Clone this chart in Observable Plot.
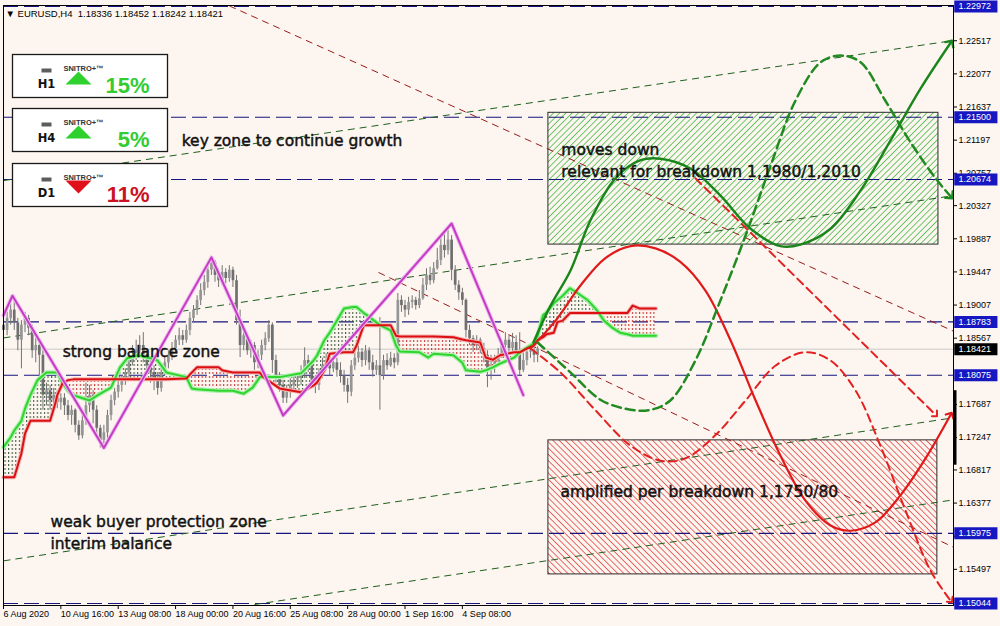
<!DOCTYPE html>
<html>
<head>
<meta charset="utf-8">
<script src="https://cdn.jsdelivr.net/npm/d3@7"></script>
<script src="https://cdn.jsdelivr.net/npm/@observablehq/plot@0.6"></script>
<style>
  html, body { margin: 0; padding: 0; background: #fdf6f0; }
  #chart { width: 1000px; height: 626px; overflow: hidden; }
  #chart svg { display: block; }
</style>
</head>
<body>
<div id="chart"></div>
<script>
// ---------------- DATA ----------------
const candleOpen = [1.1874,1.1867,1.1883,1.1894,1.1877,1.1854,1.1874,1.1883,1.1870,1.1840,
1.1847,1.1834,1.1781,1.1787,1.1774,1.1781,1.1771,1.1777,1.1767,1.1754,
1.1761,1.1741,1.1727,1.1747,1.1767,1.1781,1.1761,1.1737,1.1721,1.1731,
1.1754,1.1774,1.1785,1.1794,1.1801,1.1811,1.1824,1.1834,1.1840,1.1847,
1.1834,1.1820,1.1811,1.1803,1.1790,1.1811,1.1824,1.1834,1.1843,1.1854,
1.1860,1.1854,1.1867,1.1883,1.1894,1.1907,1.1920,1.1931,1.1947,1.1957,
1.1940,1.1933,1.1944,1.1936,1.1947,1.1933,1.1880,1.1847,1.1860,1.1840,
1.1847,1.1824,1.1834,1.1847,1.1856,1.1874,1.1827,1.1803,1.1794,1.1777,
1.1785,1.1794,1.1801,1.1803,1.1811,1.1827,1.1820,1.1801,1.1794,1.1811,
1.1820,1.1827,1.1816,1.1824,1.1814,1.1807,1.1794,1.1785,1.1820,1.1830,
1.1838,1.1827,1.1840,1.1824,1.1814,1.1820,1.1807,1.1827,1.1820,1.1830,
1.1824,1.1907,1.1900,1.1894,1.1904,1.1907,1.1900,1.1909,1.1927,1.1940,
1.1933,1.1949,1.1960,1.1980,1.1973,1.1987,1.1947,1.1927,1.1917,1.1907,
1.1867,1.1856,1.1847,1.1854,1.1843,1.1834,1.1814,1.1820,1.1827,1.1834,
1.1847,1.1854,1.1843,1.1851,1.1840,1.1814,1.1827,1.1838,1.1840,1.18336];
const candleHigh = [1.1883,1.1891,1.1907,1.1912,1.1883,1.1880,1.1891,1.1887,1.1874,1.1856,
1.1854,1.1840,1.1797,1.1794,1.1790,1.1787,1.1783,1.1783,1.1774,1.1767,
1.1763,1.1747,1.1754,1.1797,1.1794,1.1787,1.1767,1.1741,1.1741,1.1761,
1.1781,1.1790,1.1805,1.1807,1.1816,1.1834,1.1847,1.1854,1.1860,1.1864,
1.1840,1.1830,1.1820,1.1811,1.1816,1.1831,1.1840,1.1851,1.1860,1.1870,
1.1867,1.1874,1.1891,1.1900,1.1913,1.1929,1.1940,1.1957,1.1964,1.1960,
1.1949,1.1953,1.1949,1.1953,1.1951,1.1940,1.1894,1.1867,1.1863,1.1854,
1.1851,1.1840,1.1854,1.1864,1.1880,1.1877,1.1834,1.1811,1.1801,1.1794,
1.1803,1.1810,1.1811,1.1820,1.1844,1.1834,1.1827,1.1807,1.1816,1.1830,
1.1836,1.1834,1.1832,1.1830,1.1824,1.1814,1.1803,1.1827,1.1840,1.1850,
1.1843,1.1847,1.1844,1.1834,1.1827,1.1884,1.1834,1.1836,1.1838,1.1836,
1.1916,1.1913,1.1907,1.1911,1.1913,1.1911,1.1920,1.1936,1.1949,1.1951,
1.1957,1.1976,1.1990,1.1996,1.2000,1.1993,1.1953,1.1933,1.1923,1.1909,
1.1874,1.1860,1.1860,1.1857,1.1850,1.1840,1.1834,1.1834,1.1843,1.1854,
1.1864,1.1860,1.1863,1.1860,1.1864,1.1838,1.1844,1.1847,1.1847,1.18452];
const candleLow = [1.1856,1.1860,1.1874,1.1867,1.1840,1.1816,1.1864,1.1860,1.1830,1.1824,
1.1801,1.1761,1.1767,1.1761,1.1767,1.1763,1.1761,1.1754,1.1747,1.1741,
1.1731,1.1721,1.1723,1.1741,1.1758,1.1743,1.1727,1.1711,1.1711,1.1723,
1.1747,1.1767,1.1777,1.1785,1.1794,1.1803,1.1820,1.1827,1.1831,1.1824,
1.1807,1.1797,1.1787,1.1781,1.1785,1.1807,1.1816,1.1827,1.1838,1.1847,
1.1847,1.1850,1.1860,1.1877,1.1887,1.1900,1.1913,1.1923,1.1940,1.1931,
1.1924,1.1927,1.1929,1.1931,1.1924,1.1874,1.1831,1.1840,1.1834,1.1830,
1.1814,1.1816,1.1827,1.1840,1.1851,1.1810,1.1797,1.1785,1.1770,1.1770,
1.1777,1.1787,1.1790,1.1794,1.1803,1.1811,1.1790,1.1783,1.1787,1.1803,
1.1814,1.1807,1.1811,1.1805,1.1797,1.1785,1.1770,1.1779,1.1814,1.1824,
1.1818,1.1820,1.1814,1.1805,1.1807,1.1761,1.1801,1.1814,1.1818,1.1816,
1.1820,1.1891,1.1884,1.1887,1.1896,1.1894,1.1896,1.1907,1.1920,1.1927,
1.1929,1.1947,1.1953,1.1963,1.1967,1.1933,1.1920,1.1907,1.1900,1.1857,
1.1847,1.1838,1.1840,1.1836,1.1824,1.1791,1.1801,1.1810,1.1820,1.1830,
1.1838,1.1834,1.1838,1.1834,1.1807,1.1811,1.1820,1.1830,1.1824,1.18242];
const candleClose = [1.1867,1.1883,1.1894,1.1877,1.1854,1.1874,1.1883,1.1870,1.1840,1.1847,
1.1834,1.1781,1.1787,1.1774,1.1781,1.1771,1.1777,1.1767,1.1754,1.1761,
1.1741,1.1727,1.1747,1.1767,1.1781,1.1761,1.1737,1.1721,1.1731,1.1754,
1.1774,1.1785,1.1794,1.1801,1.1811,1.1824,1.1834,1.1840,1.1847,1.1834,
1.1820,1.1811,1.1803,1.1790,1.1811,1.1824,1.1834,1.1843,1.1854,1.1860,
1.1854,1.1867,1.1883,1.1894,1.1907,1.1920,1.1931,1.1947,1.1957,1.1940,
1.1933,1.1944,1.1936,1.1947,1.1933,1.1880,1.1847,1.1860,1.1840,1.1847,
1.1824,1.1834,1.1847,1.1856,1.1874,1.1827,1.1803,1.1794,1.1777,1.1785,
1.1794,1.1801,1.1803,1.1811,1.1827,1.1820,1.1801,1.1794,1.1811,1.1820,
1.1827,1.1816,1.1824,1.1814,1.1807,1.1794,1.1785,1.1820,1.1830,1.1838,
1.1827,1.1840,1.1824,1.1814,1.1820,1.1807,1.1827,1.1820,1.1830,1.1824,
1.1907,1.1900,1.1894,1.1904,1.1907,1.1900,1.1909,1.1927,1.1940,1.1933,
1.1949,1.1960,1.1980,1.1973,1.1987,1.1947,1.1927,1.1917,1.1907,1.1867,
1.1856,1.1847,1.1854,1.1843,1.1834,1.1814,1.1820,1.1827,1.1834,1.1847,
1.1854,1.1843,1.1851,1.1840,1.1814,1.1827,1.1838,1.1840,1.1834,1.18421];

const xTickBars = [0, 16, 32, 48, 64, 80, 96, 112, 128];
const xTickLabels = ["6 Aug 2020","10 Aug 16:00","13 Aug 08:00","18 Aug 00:00","20 Aug 16:00","25 Aug 08:00","28 Aug 00:00","1 Sep 16:00","4 Sep 08:00"];
const yTicks = [1.22517,1.22077,1.21637,1.21197,1.20757,1.20327,1.19887,1.19447,1.19007,1.18567,1.17687,1.17247,1.16817,1.16377,1.15937,1.15497];
const levelPrices = [1.22972,1.21500,1.20674,1.18783,1.18075,1.15975,1.15044];
const bidPrice = [1.18421];
const rangeBar = [1.1787, 1.1688];

// Ichimoku cloud (senkou span A green, span B red)
const cloudBars = [0,2,3,5,6,7.5,9.5,12,13,14.5,15,16.5,18,19.5,24,27,30,32.5,34.5,37.5,
41,43,45.5,51,52.5,54,60,61,64,67,69.5,71.5,72.5,77,83,86.5,87.5,89.5,91,95,
97.5,98.5,100.5,101.5,105,108,109.5,110.5,116,118.5,120,125.5,128,129,133,134.5,136.5,138.5,140.5,142.5,
144,146,148,149,150.5,151.5,153.5,154.5,156,158,160,163,165.5,167.5,170,172,174,175.5,177.5,182];
const spanA = [1.1712,1.1725,1.1734,1.1747,1.1763,1.1781,1.1801,1.1811,1.1811,1.1811,
1.1811,1.1797,1.1787,1.1781,1.1774,1.1783,1.1791,1.1818,1.1830,1.1834,
1.1830,1.1827,1.1811,1.1805,1.1790,1.1789,1.1787,1.1787,1.1787,1.1783,
1.1791,1.1805,1.1805,1.1805,1.1810,1.1827,1.1834,1.1854,1.1864,1.1896,
1.1898,1.1898,1.1890,1.1887,1.1874,1.1867,1.1847,1.1839,1.1838,1.1831,
1.1836,1.1834,1.1824,1.1814,1.1812,1.1814,1.1818,1.1823,1.1827,1.1831,
1.1838,1.1844,1.1850,1.1860,1.1887,1.1891,1.1903,1.1907,1.1913,1.1923,
1.1917,1.1907,1.1894,1.1880,1.1870,1.1864,1.1862,1.1860,1.1860,1.1860];
const spanB = [1.1672,1.1672,1.1672,1.1704,1.1730,1.1747,1.1747,1.1747,1.1747,1.1771,
1.1781,1.1797,1.1801,1.1802,1.1802,1.1802,1.1802,1.1802,1.1802,1.1802,
1.1802,1.1802,1.1802,1.1803,1.1811,1.1818,1.1818,1.1814,1.1811,1.1811,
1.1811,1.1811,1.1805,1.1790,1.1785,1.1794,1.1798,1.1814,1.1836,1.1838,
1.1838,1.1847,1.1874,1.1874,1.1874,1.1874,1.1860,1.1859,1.1859,1.1859,
1.1859,1.1858,1.1855,1.1854,1.1851,1.1831,1.1828,1.1834,1.1836,1.1838,
1.1838,1.1843,1.1847,1.1854,1.1858,1.1862,1.1864,1.1878,1.1880,1.1890,
1.1890,1.1890,1.1890,1.1890,1.1890,1.1890,1.1890,1.1900,1.1896,1.1896];

// ZigZag
const zigBars = [0, 2.5, 28, 58, 78, 125, 145];
const zigPrices = [1.1887, 1.1913, 1.1711, 1.1964, 1.1754, 1.2009, 1.1781];

// Trend lines (start bar, start price, end bar, end price)
const greenTrendBar1 = [0, 0, 0, 70];
const greenTrendP1 = [1.2066, 1.1857, 1.1561, 1.1503];
const greenTrendBar2 = [265, 265, 265, 265];
const greenTrendP2 = [1.2252, 1.2046, 1.1751, 1.1642];
const redTrendBar1 = [63, 104.6];
const redTrendP1 = [1.2298, 1.1944];
const redTrendBar2 = [265, 265];
const redTrendP2 = [1.1866, 1.1579];

// Zones
const greenZoneBars = [152, 260.8];
const greenZonePrices = [1.1981, 1.2156];
const redZoneBars = [152, 260.5];
const redZonePrices = [1.1543, 1.1721];

// Forecast paths
const greenSolidBar = [147.8,152.6,158.2,163.7,170.7,177.7,183.3,191.6,200,208.4,216.7,222.3,230.7,239.1,247.4,255.8,264.2];
const greenSolidPrice = [1.1851,1.1900,1.1947,1.2013,1.2069,1.2093,1.2095,1.2082,1.2046,1.2002,1.1979,1.1981,1.2002,1.2053,1.2119,1.2188,1.2249];
const greenDashBar = [149,158.2,166.5,173.5,179.9,186,193,200,207,214,220.9,227.9,233.5,239.1,246,253,260,264.2];
const greenDashPrice = [1.1851,1.1811,1.1775,1.1763,1.1761,1.1774,1.1827,1.1907,1.1993,1.2086,1.2172,1.2223,1.2232,1.2223,1.2172,1.2117,1.2069,1.2045];
const redSolidBar = [147,154,161,167.9,174.9,181.9,188.8,195.8,202.8,209.8,216.7,223.7,230.7,236.3,243.2,250.2,257.2,264.2];
const redSolidPrice = [1.1843,1.1880,1.1927,1.1963,1.1979,1.1976,1.1958,1.1920,1.1854,1.1774,1.1701,1.1641,1.1608,1.1601,1.1612,1.1648,1.1697,1.1755];
const redDashBar = [147,155.4,165.1,174.9,183.3,190.2,198.6,207,215.3,223.7,230.7,237.7,244.6,251.6,258.6,264.2];
const redDashPrice = [1.1843,1.1811,1.1761,1.1714,1.1694,1.1697,1.1728,1.1774,1.1820,1.1838,1.1827,1.1787,1.1714,1.1628,1.1548,1.1508];
const redArrowBar = [193, 260];
const redArrowPrice = [1.2069, 1.1755];

// Annotations
const noteText = ["key zone to continue growth","strong balance zone","weak buyer protection zone","interim balance","moves down","relevant for breakdown 1,1980/1,2010","amplified per breakdown 1,1750/80"];
const noteBar = [49.7, 16.5, 13.1, 13.1, 155.6, 155.6, 155.4];
const notePrice = [1.2118, 1.1838, 1.1613, 1.1583, 1.2106, 1.2077, 1.1652];

// Header & panel
const headerText = ["\u25BC EURUSD,H4  1.18336 1.18452 1.18242 1.18421"];
const panelTf = ["H1", "H4", "D1"];
const panelPct = ["15%", "5%", "11%"];
const panelUp = [true, true, false];

// ---------------- LAYOUT ----------------
const W = 1000, H = 626, ML = 3, MR = 47, MT = 5, MB = 21;
const xEnd = 265;
const yDomain = [1.15017, 1.22985];
const BG = "#fdf6f0";
const NAVY = "#16167e";
const fmt5 = d3.format(".5f");
const bars = d3.range(candleClose.length);
const cloudIdx = d3.range(cloudBars.length);
const xLabelOf = new Map(xTickBars.map((b, i) => [b, xTickLabels[i]]));

const pts = (xs, ys) => xs.map((x, i) => ({x, y: ys[i]}));
const segs = (xa, ya, xb, yb) => xa.map((x, i) => ({x1: x, y1: ya[i], x2: xb[i], y2: yb[i]}));

const triUp = {draw(c) { c.moveTo(-13, 6.5); c.lineTo(13, 6.5); c.lineTo(0, -6.5); c.closePath(); }};
const triDown = {draw(c) { c.moveTo(-13, -6.5); c.lineTo(13, -6.5); c.lineTo(0, 6.5); c.closePath(); }};
const chip = {draw(c) { c.rect(-5, -2, 10, 4); }};

const annoFont = "DejaVu Sans, Verdana, sans-serif";
const axisFont = "Liberation Sans, Arial, sans-serif";

const panelMarks = [];
const panelTops = [54, 108, 163];
panelTops.forEach((T, k) => {
  const fa = {frameAnchor: "top-left"};
  panelMarks.push(Plot.frame({fill: "#ffffff", stroke: "#1a1a1a", strokeWidth: 1.3,
    insetLeft: 12 - ML, insetRight: (W - MR) - 167, insetTop: T - MT, insetBottom: (H - MB) - (T + 43)}));
  panelMarks.push(Plot.dot([panelTf[k]], {...fa, dx: 46 - ML, dy: T + 16 - MT, symbol: chip, r: 4, fill: "#5c5c5c"}));
  panelMarks.push(Plot.text([panelTf[k]], {...fa, dx: 46 - ML, dy: T + 25.5 - MT, text: d => d, textAnchor: "middle",
    fontSize: 11.5, fontWeight: "bold", fill: "#111", fontFamily: "DejaVu Sans, sans-serif"}));
  panelMarks.push(Plot.text(["SNITRO+\u2122"], {...fa, dx: 83 - ML, dy: T + 11.5 - MT, text: d => d, textAnchor: "middle",
    fontSize: 7.5, fontWeight: "bold", fill: "#333", fontFamily: axisFont}));
  panelMarks.push(Plot.dot([panelPct[k]], {...fa, dx: 78 - ML, dy: T + 23.5 - MT, r: 5,
    symbol: panelUp[k] ? triUp : triDown, fill: panelUp[k] ? "#2fd12f" : "#e0101a"}));
  panelMarks.push(Plot.text([panelPct[k]], {...fa, dx: 149 - ML, dy: T + 23 - MT, text: d => d, textAnchor: "end",
    fontSize: 22, fontWeight: "bold", fill: panelUp[k] ? "#33cc33" : "#cc1122", fontFamily: axisFont}));
});

const chart = Plot.plot({
  width: W, height: H,
  marginLeft: ML, marginRight: MR, marginTop: MT, marginBottom: MB,
  style: {background: BG, fontFamily: axisFont, fontSize: "9px", color: "#000", overflow: "visible"},
  x: {domain: [0, xEnd]},
  y: {domain: yDomain},
  marks: [
    // hatched zones
    Plot.rect([0], {x1: () => greenZoneBars[0], x2: () => greenZoneBars[1], y1: () => greenZonePrices[0], y2: () => greenZonePrices[1],
      fill: "url(#hatchG)", stroke: "#2a2a2a", strokeWidth: 1}),
    Plot.rect([0], {x1: () => redZoneBars[0], x2: () => redZoneBars[1], y1: () => redZonePrices[0], y2: () => redZonePrices[1],
      fill: "url(#hatchR)", stroke: "#2a2a2a", strokeWidth: 1}),
    // horizontal levels
    Plot.ruleY(levelPrices, {stroke: NAVY, strokeWidth: 1.1, strokeDasharray: "15,6"}),
    Plot.ruleY(bidPrice, {stroke: "#c9c9c9", strokeWidth: 1}),
    // channel trend lines
    Plot.link(segs(greenTrendBar1, greenTrendP1, greenTrendBar2, greenTrendP2),
      {x1: "x1", y1: "y1", x2: "x2", y2: "y2", stroke: "#1d5f1d", strokeWidth: 1, strokeDasharray: "7,5"}),
    Plot.link(segs(redTrendBar1, redTrendP1, redTrendBar2, redTrendP2),
      {x1: "x1", y1: "y1", x2: "x2", y2: "y2", stroke: "#9a1a1a", strokeWidth: 1, strokeDasharray: "7,5"}),
    // candles
    Plot.ruleX(bars, {x: i => i, y1: i => candleLow[i], y2: i => candleHigh[i], stroke: "#737373", strokeWidth: 1}),
    Plot.ruleX(bars, {x: i => i, y1: i => candleOpen[i], y2: i => candleClose[i], strokeWidth: 2.7,
      stroke: i => candleClose[i] >= candleOpen[i] ? "#959595" : "#6f6f6f"}),
    // ichimoku cloud fill
    Plot.areaY(cloudIdx, {x: i => cloudBars[i], y1: i => spanB[i], y2: i => Math.max(spanA[i], spanB[i]), fill: "url(#dotG)"}),
    Plot.areaY(cloudIdx, {x: i => cloudBars[i], y1: i => spanA[i], y2: i => Math.max(spanA[i], spanB[i]), fill: "url(#dotR)"}),
    // ichimoku lines (with halo)
    Plot.line(cloudIdx, {x: i => cloudBars[i], y: i => spanA[i], stroke: "#aef0ae", strokeWidth: 4.5}),
    Plot.line(cloudIdx, {x: i => cloudBars[i], y: i => spanB[i], stroke: "#f3b4b4", strokeWidth: 4}),
    Plot.line(cloudIdx, {x: i => cloudBars[i], y: i => spanA[i], stroke: "#2fd42f", strokeWidth: 2}),
    Plot.line(cloudIdx, {x: i => cloudBars[i], y: i => spanB[i], stroke: "#dc1010", strokeWidth: 2}),
    // zigzag
    Plot.line(pts(zigBars, zigPrices), {x: "x", y: "y", stroke: "#efbdef", strokeWidth: 4}),
    Plot.line(pts(zigBars, zigPrices), {x: "x", y: "y", stroke: "#c43cc4", strokeWidth: 2}),
    // forecast paths
    Plot.line(pts(redDashBar, redDashPrice), {x: "x", y: "y", curve: "catmull-rom", stroke: "#e22222", strokeWidth: 2, strokeDasharray: "8,5", markerEnd: "arrow"}),
    Plot.line(pts(redArrowBar, redArrowPrice), {x: "x", y: "y", stroke: "#e22222", strokeWidth: 2, strokeDasharray: "8,5", markerEnd: "arrow"}),
    Plot.line(pts(redSolidBar, redSolidPrice), {x: "x", y: "y", curve: "catmull-rom", stroke: "#e01a1a", strokeWidth: 2.2, markerEnd: "arrow"}),
    Plot.line(pts(greenDashBar, greenDashPrice), {x: "x", y: "y", curve: "catmull-rom", stroke: "#218a21", strokeWidth: 2.5, strokeDasharray: "9,5", markerEnd: "arrow"}),
    Plot.line(pts(greenSolidBar, greenSolidPrice), {x: "x", y: "y", curve: "catmull-rom", stroke: "#1b851b", strokeWidth: 2.4, markerEnd: "arrow"}),
    // annotations
    Plot.text(d3.range(noteText.length), {x: i => noteBar[i], y: i => notePrice[i], text: i => noteText[i],
      textAnchor: "start", fontSize: 15.5, fontFamily: annoFont, fill: "#111", stroke: "#111", strokeWidth: 0.45}),
    // axes
    Plot.axisX(xTickBars, {anchor: "bottom", tickSize: 4, tickPadding: 1, textAnchor: "start", dx: 0,
      tickFormat: d => xLabelOf.get(d), fontSize: 9, label: null}),
    Plot.axisY(yTicks, {anchor: "right", tickSize: 3, tickPadding: 2, tickFormat: fmt5, fontSize: 9, label: null}),
    Plot.frame({stroke: "#000", strokeWidth: 1}),
    // highlighted price labels
    Plot.ruleY(levelPrices, {x1: () => xEnd + 0.35, x2: () => xEnd + 12.4, stroke: "#1717c2", strokeWidth: 12}),
    Plot.text(levelPrices, {y: d => d, frameAnchor: "right", dx: 5, text: fmt5, textAnchor: "start", fill: "#ffffff", fontSize: 9}),
    Plot.ruleY(bidPrice, {x1: () => xEnd + 0.35, x2: () => xEnd + 12.4, stroke: "#000000", strokeWidth: 12}),
    Plot.text(bidPrice, {y: d => d, frameAnchor: "right", dx: 5, text: fmt5, textAnchor: "start", fill: "#ffffff", fontSize: 9}),
    Plot.ruleX([xEnd], {y1: () => rangeBar[0], y2: () => rangeBar[1], stroke: "#000", strokeWidth: 3, dx: 1.5}),
    // header
    Plot.text(headerText, {frameAnchor: "top-left", dx: 2, dy: 5, text: d => d, textAnchor: "start",
      fontSize: 9.5, fill: "#000", stroke: BG, strokeWidth: 6, paintOrder: "stroke", fontFamily: axisFont}),
    ...panelMarks
  ]
});

d3.select(chart).insert("defs", ":first-child").html(`
  <pattern id="hatchG" patternUnits="userSpaceOnUse" width="4.4" height="4.4" patternTransform="rotate(45)">
    <line x1="0" y1="0" x2="0" y2="4.4" stroke="#2fb52f" stroke-width="1.4"/>
  </pattern>
  <pattern id="hatchR" patternUnits="userSpaceOnUse" width="4.4" height="4.4" patternTransform="rotate(-45)">
    <line x1="0" y1="0" x2="0" y2="4.4" stroke="#e02e2e" stroke-width="1.4"/>
  </pattern>
  <pattern id="dotG" patternUnits="userSpaceOnUse" width="3.585" height="4">
    <rect x="1" y="0" width="1" height="2" fill="#2d4f2d"/>
  </pattern>
  <pattern id="dotR" patternUnits="userSpaceOnUse" width="3.585" height="4">
    <rect x="1" y="0" width="1" height="2" fill="#c02424"/>
  </pattern>
`);

document.getElementById("chart").append(chart);
</script>
</body>
</html>
